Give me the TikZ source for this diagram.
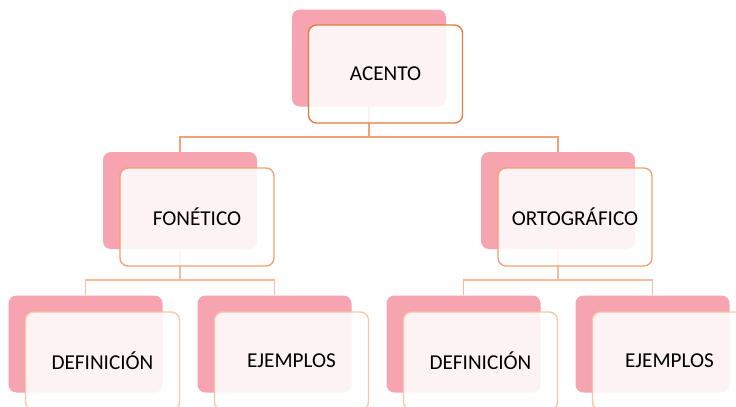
\documentclass[tikz,border=0pt]{standalone}
\usepackage{fontspec}
\setmainfont{Carlito}
\usepackage{tikz}

\definecolor{backpink}{HTML}{F5A4B0}
\definecolor{edgetop}{HTML}{E07B39}
\definecolor{edgemid}{HTML}{F4A06C}
\definecolor{edgelow}{HTML}{F9C4A8}
\definecolor{linetop}{HTML}{F2A274}
\definecolor{linelow}{HTML}{F7BC9C}

\tikzset{
	back/.style={fill=backpink, rounded corners=6pt, minimum width=115.5pt, minimum height=72.75pt},
	front/.style={fill=white, fill opacity=0.88, text opacity=1, line width=1pt, rounded corners=6pt, minimum width=115.5pt, minimum height=73.5pt, font=\fontsize{15.9}{19}\selectfont},
	conn/.style={line width=1pt}
}

\begin{document}
\begin{tikzpicture}[x=0.75pt, y=-0.75pt]
			\clip (0,0) rectangle (736,407);
			
			% connectors
			\coordinate (acb) at (369,107);
			\coordinate (fob) at (180,249);
			\coordinate (orb) at (558,249);
			\draw[conn, linetop] (acb) -- ++(0,30) -| (180,152);
			\draw[conn, linetop] (acb) -- ++(0,30) -| (558,152);
			\draw[conn, linelow] (fob) -- ++(0,31) -| (85.5,295);
			\draw[conn, linelow] (fob) -- ++(0,31) -| (274.5,295);
			\draw[conn, linelow] (orb) -- ++(0,31) -| (463.5,295);
			\draw[conn, linelow] (orb) -- ++(0,31) -| (652.5,295);
			
			% back boxes
			\node[back] (acento) at (369,58) {};
			\node[back] (fonetico) at (180,200.5) {};
			\node[back] (ortografico) at (558,200.5) {};
			\node[back] (defa) at (85.5,344) {};
			\node[back] (ejea) at (274.5,344) {};
			\node[back] (defb) at (463.5,344) {};
			\node[back] (ejeb) at (652.5,344) {};
			
			% front boxes
			\node[front, draw=edgetop] (acentoF) at (385.5,74) {ACENTO};
			\node[front, draw=edgemid] (foneticoF) at (197,217) {FONÉTICO};
			\node[front, draw=edgemid] (ortograficoF) at (575,217) {ORTOGRÁFICO};
			\node[front, draw=edgelow] (defaF) at (102.5,361) {DEFINICIÓN};
			\node[front, draw=edgelow] (ejeaF) at (291.5,361) {EJEMPLOS};
			\node[front, draw=edgelow] (defbF) at (480.5,361) {DEFINICIÓN};
			\node[front, draw=edgelow] (ejebF) at (669.5,361) {EJEMPLOS};
		\end{tikzpicture}
\end{document}
